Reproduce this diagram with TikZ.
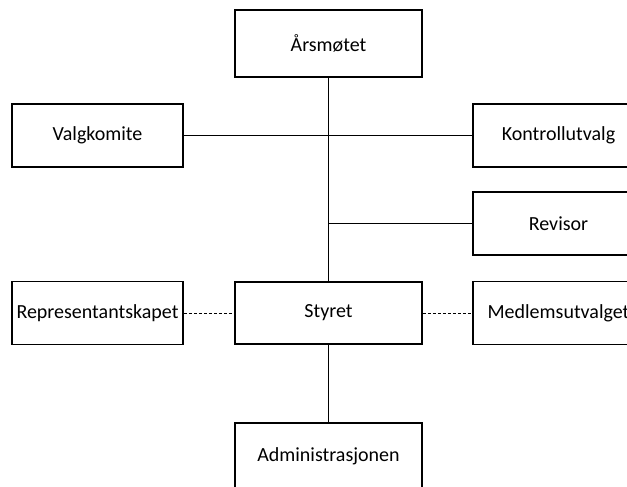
\documentclass[tikz,border=0pt]{standalone}
\usepackage{fontspec}
\setmainfont{Carlito}
\begin{document}
\begin{tikzpicture}[x=1pt,y=-1pt,
  box/.style={draw=black, line width=1.5pt, inner sep=0pt, font=\fontsize{20}{24}\selectfont},
  wide/.style={box, minimum width=187pt, minimum height=67pt},
  side/.style={box, minimum width=171pt, minimum height=63pt},
  solidline/.style={line width=1.5pt},
  dotline/.style={line width=1pt, dash pattern=on 3pt off 2pt}]
\useasboundingbox (0,0) rectangle (627,487);
\node[wide] (aars) at (328.5,43.5) {Årsmøtet};
\node[side] (valg) at (97.5,135.5) {Valgkomite};
\node[side] (kontroll) at (558.5,135.5) {Kontrollutvalg};
\node[side] (rev) at (558.5,223.5) {Revisor};
\node[side] (rep) at (97.5,313) {Representantskapet};
\node[box, minimum width=187pt, minimum height=62pt] (styret) at (328.5,313) {Styret};
\node[side] (medl) at (558.5,313) {Medlemsutvalget};
\node[wide] (admin) at (328.5,456.5) {Administrasjonen};
\coordinate (j) at (aars.south |- rev.west);
\draw[solidline] (aars.south) -- (styret.north);
\draw[solidline] (valg.east) -- (kontroll.west);
\draw[solidline] (j) -- (rev.west);
\draw[solidline] (styret.south) -- (admin.north);
\draw[dotline] (rep.east) -- (styret.west);
\draw[dotline] (styret.east) -- (medl.west);
\end{tikzpicture}
\end{document}
